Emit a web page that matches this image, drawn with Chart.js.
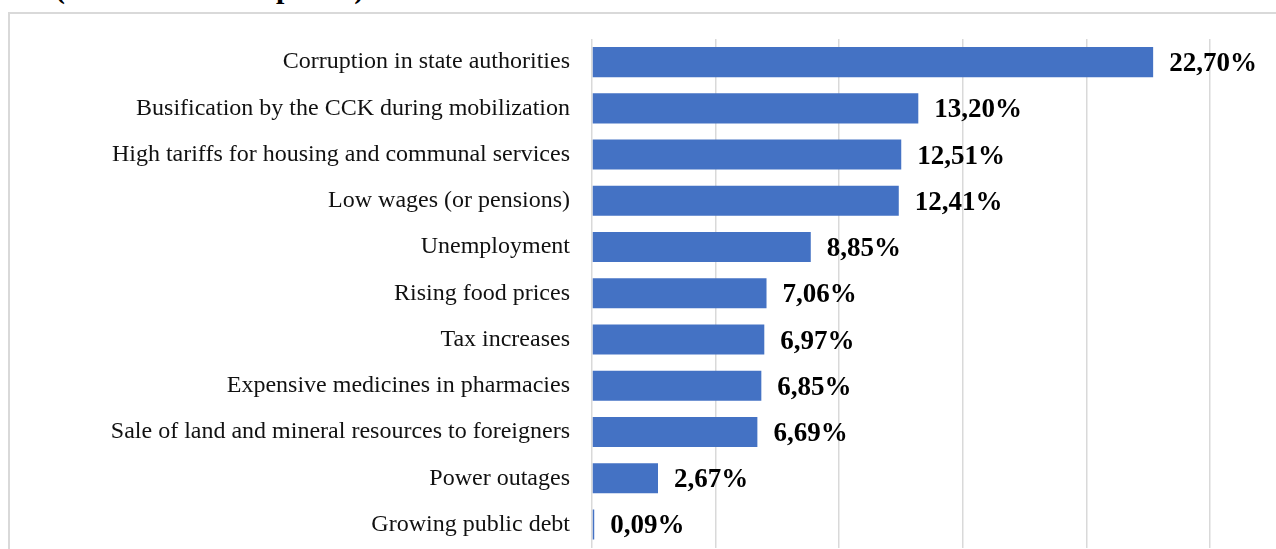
<!DOCTYPE html>
<html>
<head>
<meta charset="utf-8">
<script src="https://cdn.jsdelivr.net/npm/chart.js@4.4.1/dist/chart.umd.min.js"></script>
<style>
  html, body { margin: 0; padding: 0; background: #fff; overflow: hidden; width: 1276px; height: 549px; }
  #titulo {
    position: absolute; left: -2px; top: -29px;
    font: bold 30px "Liberation Serif", "Times New Roman", serif; color: #000;
    white-space: nowrap;
  }
  #caja {
    position: absolute; left: 8px; top: 12px; width: 1290px; height: 560px;
    border: 2px solid #d9d9d9; box-sizing: border-box;
  }
  #canvasProblemas { position: absolute; left: 0; top: 0; }
</style>
</head>
<body>
<div id="titulo">war (several answer options)</div>
<div id="caja"></div>
<canvas id="canvasProblemas" width="1276" height="576"></canvas>
<script>
// datos
const categorias = [
  "Corruption in state authorities",
  "Busification by the CCK during mobilization",
  "High tariffs for housing and communal services",
  "Low wages (or pensions)",
  "Unemployment",
  "Rising food prices",
  "Tax increases",
  "Expensive medicines in pharmacies",
  "Sale of land and mineral resources to foreigners",
  "Power outages",
  "Growing public debt"
];
const valores = [22.70, 13.20, 12.51, 12.41, 8.85, 7.06, 6.97, 6.85, 6.69, 2.67, 0.09];
const ticksX = [0, 5, 10, 15, 20, 25];

const etiquetasValor = {
  id: 'etiquetasValor',
  afterDatasetsDraw(chart) {
    const ctx = chart.ctx;
    const meta = chart.getDatasetMeta(0);
    ctx.save();
    ctx.font = 'bold 27px "Liberation Serif", "Times New Roman", serif';
    ctx.fillStyle = '#000';
    ctx.textBaseline = 'middle';
    ctx.textAlign = 'left';
    meta.data.forEach((barra, i) => {
      const txt = valores[i].toFixed(2).replace('.', ',') + '%';
      ctx.fillText(txt, barra.x + 16, barra.y + 2);
    });
    ctx.restore();
  }
};

Chart.defaults.font.family = '"Liberation Serif", "Times New Roman", serif';

new Chart(document.getElementById('canvasProblemas').getContext('2d'), {
  type: 'bar',
  data: {
    labels: categorias,
    datasets: [{
      data: valores,
      backgroundColor: '#4472C4',
      borderWidth: 0,
      barPercentage: 0.65,
      categoryPercentage: 1
    }]
  },
  options: {
    indexAxis: 'y',
    responsive: false,
    animation: false,
    layout: { padding: { top: 39, right: 66, bottom: 0, left: 0 }, autoPadding: false },
    plugins: { legend: { display: false }, tooltip: { enabled: false } },
    scales: {
      x: {
        min: 0, max: 25,
        afterBuildTicks: (s) => { s.ticks = ticksX.map(v => ({ value: v })); },
        afterFit: (s) => { s.height = 0; },
        ticks: { display: false },
        grid: { color: '#d9d9d9', lineWidth: 1.5, drawTicks: false },
        border: { display: false }
      },
      y: {
        afterFit: (s) => { s.width = 592; },
        ticks: { color: '#111', font: { size: 24 }, padding: 14 },
        grid: { display: false },
        border: { display: false }
      }
    }
  },
  plugins: [etiquetasValor]
});
</script>
</body>
</html>
